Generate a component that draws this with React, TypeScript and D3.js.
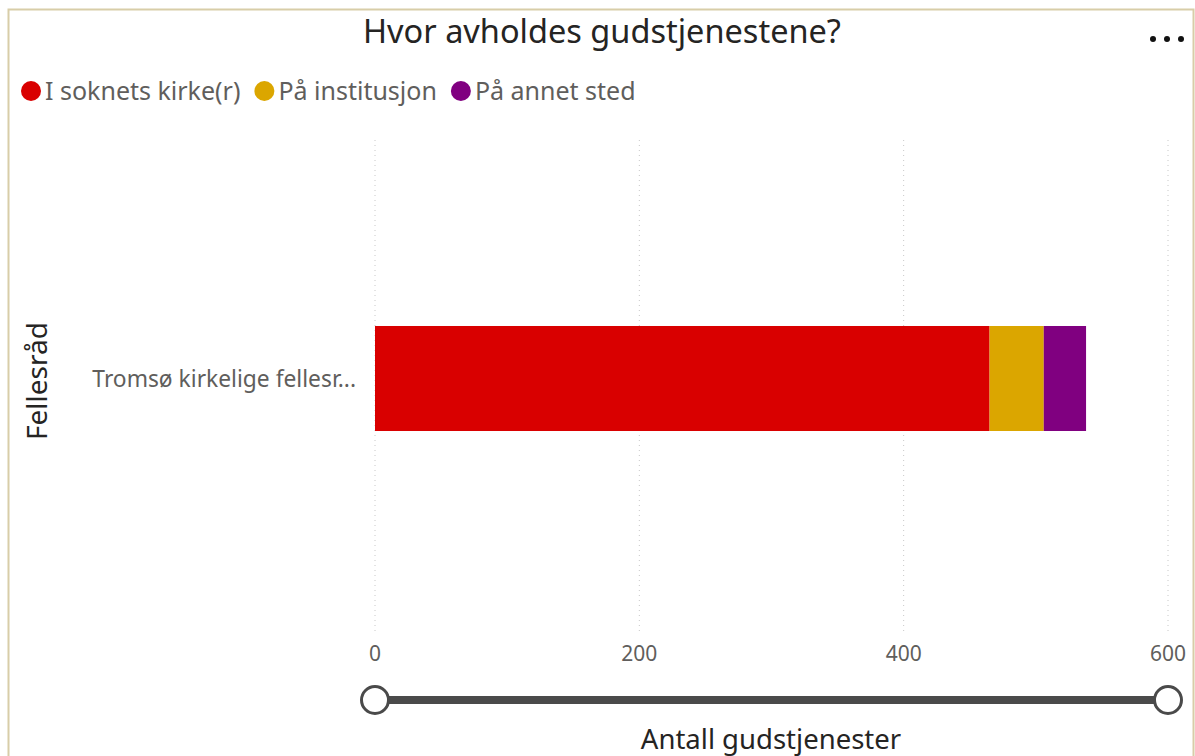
import { useEffect, useRef } from 'react';
import * as d3 from 'd3';

// data
const categories = ['Tromsø kirkelige fellesråd'];
const seriesNames = ['I soknets kirke(r)', 'På institusjon', 'På annet sted'];
const seriesColors = ['#D90000', '#DBA600', '#800080'];
const soknetsKirke = [465];
const institusjon = [41];
const annetSted = [32];
const xTicks = [0, 200, 400, 600];

const W = 1195;
const H = 756;
const FONT = '"Segoe UI", "Noto Sans", "Open Sans", sans-serif';

export default function App() {
    const svgRef = useRef<SVGSVGElement | null>(null);

    useEffect(() => {
        if (!svgRef.current) return;
        const svg = d3.select(svgRef.current);
        svg.selectAll('*').remove();

        // frame
        svg.append('rect')
            .attr('x', 8.5).attr('y', 9.5)
            .attr('width', W - 10).attr('height', H)
            .attr('fill', '#fff')
            .attr('stroke', '#d8cda8')
            .attr('stroke-width', 2);

        // title
        svg.append('text')
            .attr('x', 602).attr('y', 43)
            .attr('text-anchor', 'middle')
            .style('font-family', FONT).style('font-size', '32.5px')
            .style('fill', '#252423')
            .text('Hvor avholdes gudstjenestene?');

        // more-options dots
        [1153, 1167, 1181].forEach(cx => {
            svg.append('circle').attr('cx', cx).attr('cy', 39).attr('r', 3).attr('fill', '#111');
        });

        // legend
        let lx = 20;
        seriesNames.forEach((name, i) => {
            svg.append('circle')
                .attr('cx', lx + 11).attr('cy', 91).attr('r', 10)
                .attr('fill', seriesColors[i]);
            const t = svg.append('text')
                .attr('x', lx + 25).attr('y', 100)
                .style('font-family', FONT).style('font-size', '25px')
                .style('fill', '#605e5c')
                .text(name);
            const w = (t.node() as SVGTextElement).getComputedTextLength();
            lx = lx + 25 + w + 13;
        });

        const x = d3.scaleLinear().domain([0, 600]).range([375, 1168]);
        const y = d3.scaleBand().domain(categories).range([131, 626]).paddingInner(0).paddingOuter(1.857);

        // dotted gridlines
        svg.append('g')
            .selectAll('line')
            .data(xTicks)
            .join('line')
            .attr('x1', d => x(d)).attr('x2', d => x(d))
            .attr('y1', 140).attr('y2', 632)
            .attr('stroke', '#c8c8c8')
            .attr('stroke-width', 1)
            .attr('stroke-dasharray', '1,4');

        // stacked bars
        const rows = categories.map((c, i) => ({
            cat: c,
            [seriesNames[0]]: soknetsKirke[i],
            [seriesNames[1]]: institusjon[i],
            [seriesNames[2]]: annetSted[i],
        }));
        const stack = d3.stack<any>().keys(seriesNames)(rows);
        stack.forEach((layer, li) => {
            svg.append('g')
                .selectAll('rect')
                .data(layer)
                .join('rect')
                .attr('x', d => x(d[0]))
                .attr('width', d => x(d[1]) - x(d[0]))
                .attr('y', d => y(d.data.cat) as number)
                .attr('height', y.bandwidth())
                .attr('fill', seriesColors[li]);
        });

        // category labels
        svg.append('g')
            .selectAll('text')
            .data(categories)
            .join('text')
            .attr('x', 356)
            .attr('y', d => (y(d) as number) + y.bandwidth() / 2 + 8)
            .attr('text-anchor', 'end')
            .style('font-family', FONT).style('font-size', '22.8px')
            .style('fill', '#605e5c')
            .text(d => d.length > 24 ? d.slice(0, 24) + '...' : d);

        // y axis title
        svg.append('text')
            .attr('transform', 'translate(47,381) rotate(-90)')
            .attr('text-anchor', 'middle')
            .style('font-family', FONT).style('font-size', '28px')
            .style('fill', '#252423')
            .text('Fellesråd');

        // x tick labels
        svg.append('g')
            .selectAll('text')
            .data(xTicks)
            .join('text')
            .attr('x', d => x(d))
            .attr('y', 661)
            .attr('text-anchor', 'middle')
            .style('font-family', FONT).style('font-size', '21px')
            .style('fill', '#605e5c')
            .text(d => String(d));

        // zoom slider
        svg.append('line')
            .attr('x1', x(0)).attr('x2', x(600))
            .attr('y1', 700).attr('y2', 700)
            .attr('stroke', '#4a4a4a').attr('stroke-width', 8);
        [0, 600].forEach(v => {
            svg.append('circle')
                .attr('cx', x(v)).attr('cy', 700).attr('r', 13.5)
                .attr('fill', '#fff')
                .attr('stroke', '#4a4a4a').attr('stroke-width', 3);
        });

        // x axis title
        svg.append('text')
            .attr('x', 771).attr('y', 749)
            .attr('text-anchor', 'middle')
            .style('font-family', FONT).style('font-size', '27.5px')
            .style('fill', '#252423')
            .text('Antall gudstjenester');
    }, []);

    return (
        <div style={{ position: 'absolute', left: 0, top: 0 }}>
            <svg ref={svgRef} width={W} height={H} style={{ display: 'block' }} />
        </div>
    );
}
